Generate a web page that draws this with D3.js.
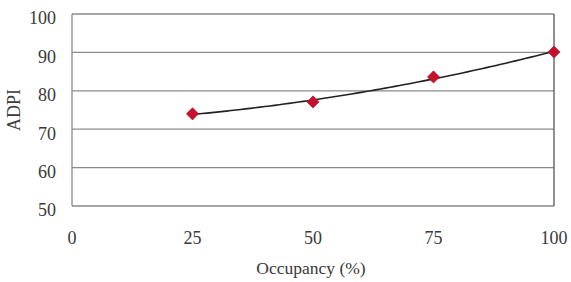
<!DOCTYPE html>
<html lang="en">
<head>
<meta charset="UTF-8">
<title>ADPI vs Occupancy</title>
<script src="https://d3js.org/d3.v7.min.js"></script>
<style>
  body { margin: 0; background: #fff; }
  text { font-family: "Liberation Serif", "Times New Roman", serif; fill: #3a3a3a; }
</style>
</head>
<body>
<div id="chart"></div>
<script>
// data
var occupancy = [25, 50, 75, 100];
var adpi = [74.0, 77.1, 83.6, 90.1];
var xTicks = [0, 25, 50, 75, 100];
var yTicks = [50, 60, 70, 80, 90, 100];

var width = 571, height = 282;
var margin = { top: 14, right: 17, bottom: 76, left: 72 };
var w = width - margin.left - margin.right;
var h = height - margin.top - margin.bottom;

var svg = d3.select("#chart").append("svg")
    .attr("width", width)
    .attr("height", height);

var g = svg.append("g")
    .attr("transform", "translate(" + margin.left + "," + margin.top + ")");

var x = d3.scaleLinear().domain([0, 100]).range([0, w]);
var y = d3.scaleLinear().domain([50, 100]).range([h, 0]);

// horizontal grid lines
g.selectAll(".grid")
    .data(yTicks)
    .enter().append("line")
    .attr("x1", 0).attr("x2", w)
    .attr("y1", function(d) { return y(d); })
    .attr("y2", function(d) { return y(d); })
    .attr("stroke", "#8a8a8a")
    .attr("stroke-width", 1.3);

// frame sides
g.append("line").attr("x1", 0).attr("x2", 0).attr("y1", 0).attr("y2", h)
    .attr("stroke", "#8a8a8a").attr("stroke-width", 1.3);
g.append("line").attr("x1", w).attr("x2", w).attr("y1", 0).attr("y2", h)
    .attr("stroke", "#555").attr("stroke-width", 1.3);

// y tick labels (sit a little below their grid line in the original)
g.selectAll(".ylab")
    .data(yTicks)
    .enter().append("text")
    .attr("x", -16)
    .attr("y", function(d) { return y(d) + 4; })
    .attr("dy", "0.35em")
    .attr("text-anchor", "end")
    .style("font-size", "18px")
    .text(function(d) { return d; });

// x tick labels
g.selectAll(".xlab")
    .data(xTicks)
    .enter().append("text")
    .attr("x", function(d) { return x(d); })
    .attr("y", h + 32)
    .attr("dy", "0.35em")
    .attr("text-anchor", "middle")
    .style("font-size", "18px")
    .text(function(d) { return d; });

// axis titles
svg.append("text")
    .attr("x", margin.left + w / 2 - 2)
    .attr("y", 268)
    .attr("dy", "0.35em")
    .attr("text-anchor", "middle")
    .style("font-size", "17.5px")
    .text("Occupancy (%)");

svg.append("text")
    .attr("transform", "translate(14," + (margin.top + y(75)) + ") rotate(-90)")
    .attr("dy", "0.35em")
    .attr("text-anchor", "middle")
    .style("font-size", "18px")
    .text("ADPI");

var pts = occupancy.map(function(d, i) { return [d, adpi[i]]; });

// 2nd order polynomial trendline (least squares on the points)
function quadFit(xs, ys) {
    var n = xs.length, s = [0, 0, 0, 0, 0], t = [0, 0, 0];
    for (var i = 0; i < n; i++) {
        var p = 1;
        for (var k = 0; k < 5; k++) { s[k] += p; if (k < 3) t[k] += p * ys[i]; p *= xs[i]; }
    }
    var m = [[s[0], s[1], s[2], t[0]], [s[1], s[2], s[3], t[1]], [s[2], s[3], s[4], t[2]]];
    for (var c = 0; c < 3; c++) {
        for (var r = c + 1; r < 3; r++) {
            var f = m[r][c] / m[c][c];
            for (var j = c; j < 4; j++) m[r][j] -= f * m[c][j];
        }
    }
    var b = [0, 0, 0];
    for (var r2 = 2; r2 >= 0; r2--) {
        var v = m[r2][3];
        for (var j2 = r2 + 1; j2 < 3; j2++) v -= m[r2][j2] * b[j2];
        b[r2] = v / m[r2][r2];
    }
    return function(xv) { return b[0] + b[1] * xv + b[2] * xv * xv; };
}
var fit = quadFit(occupancy, adpi);
var trend = d3.range(occupancy[0], occupancy[occupancy.length - 1] + 0.01, 1)
    .map(function(v) { return [v, fit(v)]; });

var line = d3.line()
    .x(function(d) { return x(d[0]); })
    .y(function(d) { return y(d[1]); });

g.append("path")
    .datum(trend)
    .attr("d", line)
    .attr("fill", "none")
    .attr("stroke", "#222")
    .attr("stroke-width", 1.6);

// diamond markers
var diamond = d3.symbol().type(d3.symbolDiamond2).size(95);
g.selectAll(".pt")
    .data(pts)
    .enter().append("path")
    .attr("transform", function(d) { return "translate(" + x(d[0]) + "," + y(d[1]) + ")"; })
    .attr("d", diamond)
    .attr("fill", "#c8102e")
    .attr("stroke", "#9a0d22")
    .attr("stroke-width", 0.6);
</script>
</body>
</html>
